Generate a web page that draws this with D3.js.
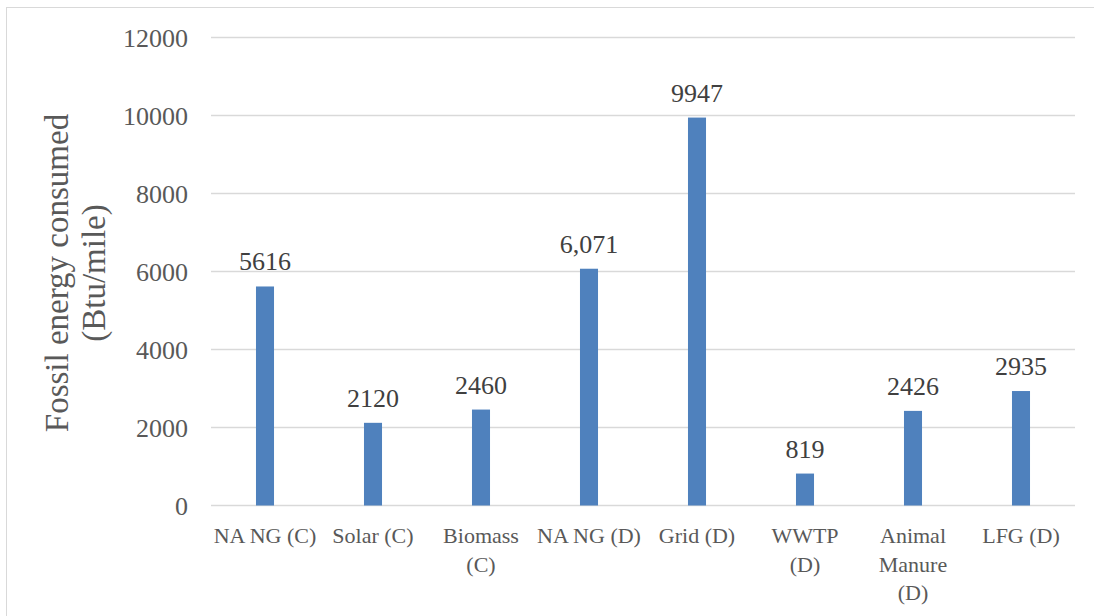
<!DOCTYPE html>
<html>
<head>
<meta charset="utf-8">
<script src="https://cdn.jsdelivr.net/npm/d3@7"></script>
<style>
  html, body { margin: 0; padding: 0; background: #fff; }
  svg { display: block; }
</style>
</head>
<body>
<svg id="chart" width="1094" height="616"></svg>
<script>
// ---- data ----
const categories = ["NA NG (C)", "Solar (C)", "Biomass (C)", "NA NG (D)", "Grid (D)", "WWTP (D)", "Animal Manure (D)", "LFG (D)"];
const categoryLines = [["NA NG (C)"], ["Solar (C)"], ["Biomass", "(C)"], ["NA NG (D)"], ["Grid (D)"], ["WWTP", "(D)"], ["Animal", "Manure", "(D)"], ["LFG (D)"]];
const values = [5616, 2120, 2460, 6071, 9947, 819, 2426, 2935];
const valueLabels = ["5616", "2120", "2460", "6,071", "9947", "819", "2426", "2935"];
const yTicks = [0, 2000, 4000, 6000, 8000, 10000, 12000];
const yTitleLines = ["Fossil energy consumed", "(Btu/mile)"];

// ---- layout ----
const FONT = "'Liberation Serif', 'DejaVu Serif', serif";
const svg = d3.select("#chart");
const plot = { left: 211, right: 1075, top: 37.5, bottom: 505.5 };

svg.append("rect")
  .attr("x", 6.5).attr("y", 7.5)
  .attr("width", 1200).attr("height", 700)
  .attr("fill", "#fff").attr("stroke", "#d9d9d9").attr("stroke-width", 1);

const x = d3.scaleBand().domain(categories).range([plot.left, plot.right]).paddingInner(0.833).paddingOuter(0.4165);
const y = d3.scaleLinear().domain([0, 12000]).range([plot.bottom, plot.top]);

// gridlines
svg.append("g").selectAll("line").data(yTicks).join("line")
  .attr("x1", plot.left).attr("x2", plot.right)
  .attr("y1", d => y(d)).attr("y2", d => y(d))
  .attr("stroke", "#d9d9d9").attr("stroke-width", 1.3);

// y axis labels
const yAxis = d3.axisLeft(y).tickValues(yTicks).tickSize(0).tickPadding(0).tickFormat(d3.format("d"));
const gy = svg.append("g").attr("transform", `translate(188,0)`).call(yAxis);
gy.select(".domain").remove();
gy.selectAll("text")
  .attr("font-family", FONT).attr("font-size", 26).attr("fill", "#595959")
  .attr("dy", "0.33em");

// bars
svg.append("g").selectAll("rect").data(values).join("rect")
  .attr("x", (d, i) => x(categories[i]))
  .attr("width", x.bandwidth())
  .attr("y", d => y(d))
  .attr("height", d => y(0) - y(d))
  .attr("fill", "#4f81bd");

// value labels
svg.append("g").selectAll("text").data(values).join("text")
  .attr("x", (d, i) => x(categories[i]) + x.bandwidth() / 2)
  .attr("y", d => y(d) - 16)
  .attr("text-anchor", "middle")
  .attr("font-family", FONT).attr("font-size", 26).attr("fill", "#404040")
  .text((d, i) => valueLabels[i]);

// x axis category labels
const xg = svg.append("g");
categories.forEach((c, i) => {
  const t = xg.append("text")
    .attr("x", x(c) + x.bandwidth() / 2)
    .attr("y", 543)
    .attr("text-anchor", "middle")
    .attr("font-family", FONT).attr("font-size", 22).attr("fill", "#595959");
  categoryLines[i].forEach((line, j) => {
    t.append("tspan").attr("x", x(c) + x.bandwidth() / 2).attr("dy", j === 0 ? 0 : 28.5).text(line);
  });
});

// y title
const yt = svg.append("text")
  .attr("transform", "translate(0,273) rotate(-90)")
  .attr("text-anchor", "middle")
  .attr("font-family", FONT).attr("font-size", 33).attr("fill", "#595959");
yTitleLines.forEach((line, j) => {
  yt.append("tspan").attr("x", 0).attr("y", j === 0 ? 68 : 105).text(line);
});
</script>
</body>
</html>
